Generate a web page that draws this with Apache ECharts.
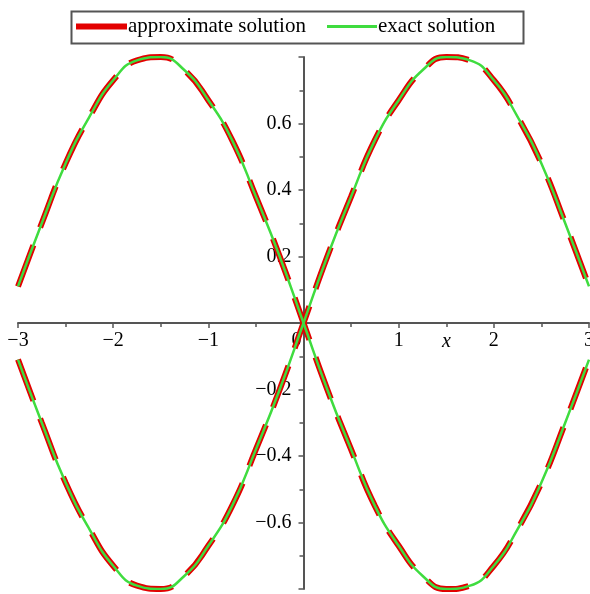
<!DOCTYPE html>
<html>
<head>
<meta charset="utf-8">
<script src="https://cdn.jsdelivr.net/npm/echarts@6/dist/echarts.min.js"></script>
<style>
html,body{margin:0;padding:0;background:#fff;}
#chart{width:590px;height:594px;}
</style>
</head>
<body>
<div id="chart"></div>
<script>
// x positions (read at 0.25 steps)
const xValues = [-3, -2.75, -2.5, -2.25, -2, -1.75, -1.5, -1.25, -1, -0.75, -0.5, -0.25, 0,
                 0.25, 0.5, 0.75, 1, 1.25, 1.5, 1.75, 2, 2.25, 2.5, 2.75, 3];
// branch rising through the origin (upper right / lower left)
const approxRising = [-0.11, -0.30, -0.48, -0.62, -0.73, -0.79, -0.80, -0.76, -0.67, -0.55, -0.38, -0.20, 0,
                      0.20, 0.38, 0.55, 0.67, 0.76, 0.80, 0.79, 0.73, 0.62, 0.48, 0.30, 0.11];
const approxFalling = [0.11, 0.30, 0.48, 0.62, 0.73, 0.79, 0.80, 0.76, 0.67, 0.55, 0.38, 0.20, 0,
                       -0.20, -0.38, -0.55, -0.67, -0.76, -0.80, -0.79, -0.73, -0.62, -0.48, -0.30, -0.11];
const exactRising = [-0.11, -0.30, -0.48, -0.62, -0.73, -0.79, -0.80, -0.76, -0.67, -0.55, -0.38, -0.20, 0,
                     0.20, 0.38, 0.55, 0.67, 0.76, 0.80, 0.79, 0.73, 0.62, 0.48, 0.30, 0.11];
const exactFalling = [0.11, 0.30, 0.48, 0.62, 0.73, 0.79, 0.80, 0.76, 0.67, 0.55, 0.38, 0.20, 0,
                      -0.20, -0.38, -0.55, -0.67, -0.76, -0.80, -0.79, -0.73, -0.62, -0.48, -0.30, -0.11];
const xTicks = [-3, -2, -1, 0, 1, 2, 3];
const yTicks = [-0.6, -0.4, -0.2, 0.2, 0.4, 0.6];
const seriesNames = ['approximate solution', 'exact solution'];

const pair = (ys) => xValues.map((x, i) => [x, ys[i]]);
const fmt = (v) => String(v).replace('-', '\u2212');
const FONT = '"Liberation Serif", "DejaVu Serif", serif';
const FS = 20;
const RED = '#e30000';
const GREEN = '#3fdc3f';
const AXIS = '#555555';

const W = 590, H = 594;
const G = { left: 18, right: 1, top: 57, bottom: 5 };
// axes cross at the origin, which sits in the middle of the symmetric ranges
const xAxisOffset = -(H - G.top - G.bottom) / 2;
const yAxisOffset = -(W - G.left - G.right) / 2;

const approxStyle = {
  type: 'line', name: seriesNames[0], smooth: true, showSymbol: false, silent: true,
  lineStyle: { color: RED, width: 6, type: [44, 19] }, itemStyle: { color: RED }, z: 2
};
const exactStyle = {
  type: 'line', name: seriesNames[1], smooth: true, showSymbol: false, silent: true,
  lineStyle: { color: GREEN, width: 2.5 }, itemStyle: { color: GREEN }, z: 3
};

const legendText = { fontFamily: FONT, fontSize: 21, color: '#000', padding: [0, 0, 0, -4] };

const chart = echarts.init(document.getElementById('chart'));
chart.setOption({
  animation: false,
  backgroundColor: '#fff',
  grid: Object.assign({ containLabel: false, outerBoundsMode: 'none' }, G),
  legend: [
    { left: 76, top: 16, padding: 0, icon: 'rect', itemWidth: 51, itemHeight: 6, itemGap: 0,
      data: [{ name: seriesNames[0], itemStyle: { color: RED } }],
      textStyle: legendText, selectedMode: false },
    { left: 327, top: 16, padding: 0, icon: 'rect', itemWidth: 50, itemHeight: 3, itemGap: 0,
      data: [{ name: seriesNames[1], itemStyle: { color: GREEN } }],
      textStyle: legendText, selectedMode: false }
  ],
  graphic: [
    { type: 'rect', left: 69, top: 9, shape: { width: 452, height: 32 },
      style: { fill: 'none', stroke: AXIS, lineWidth: 2 }, z: 0 },
    { type: 'text', left: 442, top: 332,
      style: { text: 'x', fontFamily: FONT, fontStyle: 'italic', fontSize: FS, fill: '#000' } }
  ],
  xAxis: {
    type: 'value', min: -3, max: 3, interval: 1, position: 'bottom', offset: xAxisOffset,
    axisLine: { onZero: false, lineStyle: { color: AXIS, width: 2 } },
    axisTick: { show: true, length: 5, lineStyle: { color: AXIS, width: 1.5 } },
    minorTick: { show: true, splitNumber: 2, length: 4, lineStyle: { color: AXIS, width: 1.5 } },
    splitLine: { show: false },
    axisLabel: {
      fontFamily: FONT, fontSize: FS, color: '#000', margin: 8,
      showMinLabel: true, showMaxLabel: true,
      rich: { z: { fontFamily: FONT, fontSize: FS, color: '#000', padding: [0, 14, 0, 0] } },
      formatter: (v) => v === 0 ? '{z|0}' : (xTicks.includes(v) ? fmt(v) : '')
    }
  },
  yAxis: {
    type: 'value', min: -0.8, max: 0.8, interval: 0.2, position: 'left', offset: yAxisOffset,
    axisLine: { onZero: false, lineStyle: { color: AXIS, width: 2 } },
    axisTick: { show: true, length: 5, lineStyle: { color: AXIS, width: 1.5 } },
    minorTick: { show: true, splitNumber: 2, length: 4, lineStyle: { color: AXIS, width: 1.5 } },
    splitLine: { show: false },
    axisLabel: {
      fontFamily: FONT, fontSize: FS, color: '#000', margin: 12,
      formatter: (v) => {
        const r = Math.round(v * 10) / 10;
        return yTicks.includes(r) ? fmt(r.toFixed(1)) : '';
      }
    }
  },
  series: [
    Object.assign({ data: pair(approxRising) }, approxStyle),
    Object.assign({ data: pair(approxFalling) }, approxStyle),
    Object.assign({ data: pair(exactRising) }, exactStyle),
    Object.assign({ data: pair(exactFalling) }, exactStyle)
  ]
});
</script>
</body>
</html>
